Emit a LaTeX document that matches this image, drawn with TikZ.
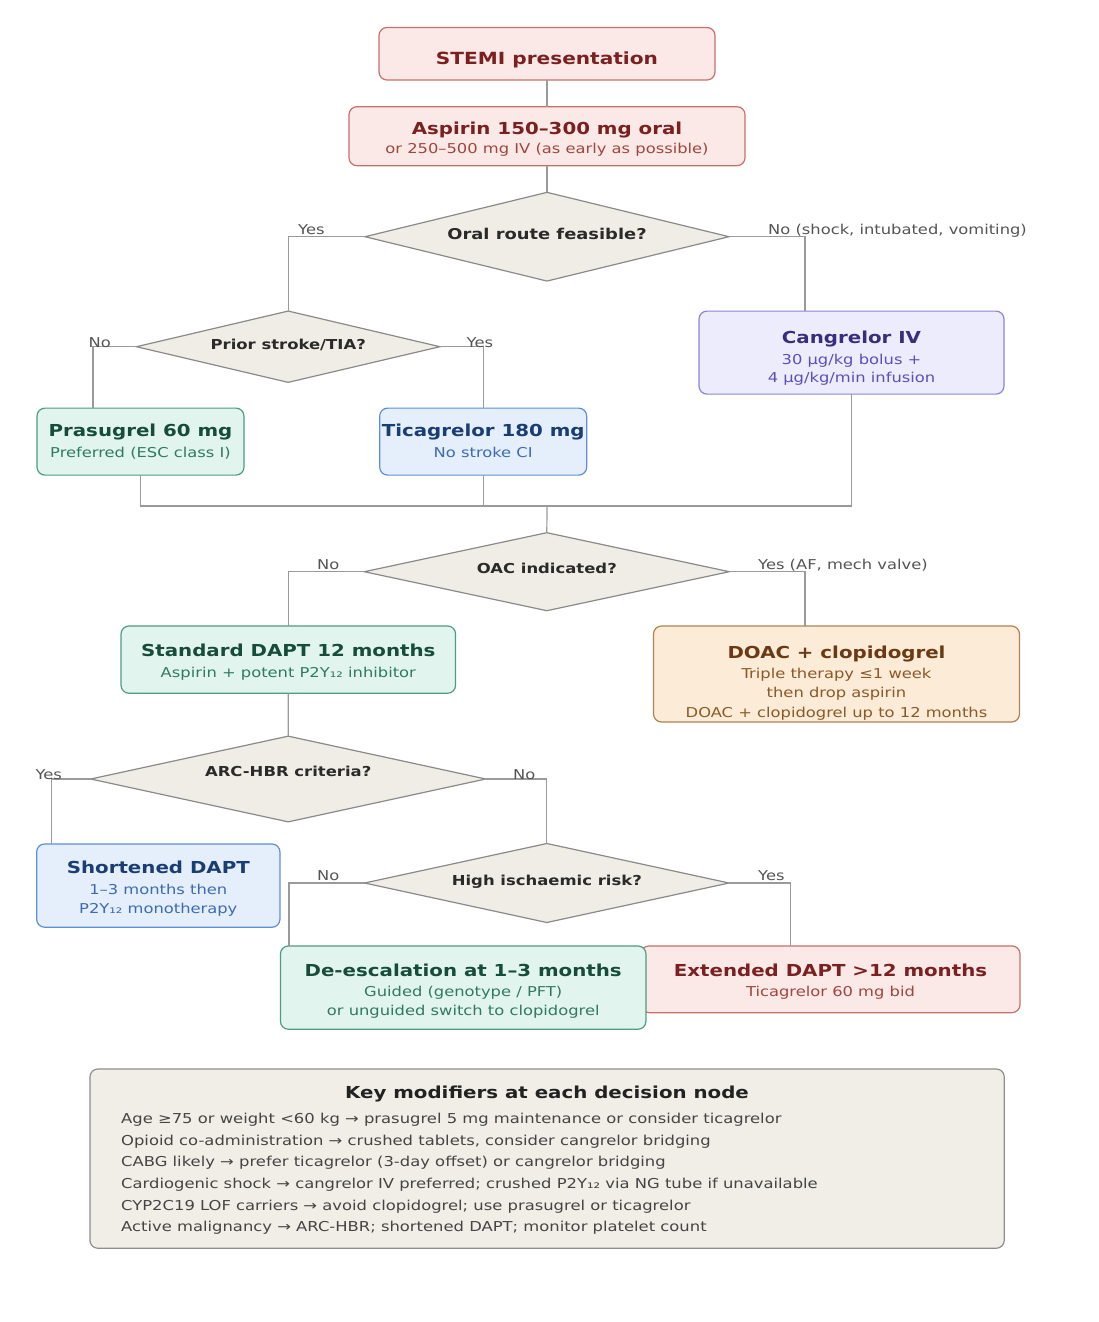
\documentclass[tikz,border=0pt]{standalone}
\usepackage{fontspec}
\setmainfont{DejaVu Sans}[FakeStretch=1.2]
\usetikzlibrary{shapes.geometric}
\definecolor{connc}{HTML}{9A9A9A}
\definecolor{lblc}{HTML}{555555}
\definecolor{dmf}{HTML}{F0EDE6}
\definecolor{dmb}{HTML}{8A8A8A}
\definecolor{dmt}{HTML}{2A2A2A}
\definecolor{pinkf}{HTML}{FBE9E7}
\definecolor{pinkd}{HTML}{C8706A}
\definecolor{pinkt}{HTML}{7B2020}
\definecolor{pinks}{HTML}{A0463E}
\definecolor{grnf}{HTML}{E2F4EE}
\definecolor{grnd}{HTML}{4F9C82}
\definecolor{grnt}{HTML}{164D3A}
\definecolor{grns}{HTML}{2F7A62}
\definecolor{bluf}{HTML}{E5EFFB}
\definecolor{blud}{HTML}{5F8FD8}
\definecolor{blut}{HTML}{1A3D73}
\definecolor{blus}{HTML}{3B6BB5}
\definecolor{lavf}{HTML}{EDECFC}
\definecolor{lavd}{HTML}{8C84D8}
\definecolor{lavt}{HTML}{3A2E7C}
\definecolor{lavs}{HTML}{5E4DBF}
\definecolor{orf}{HTML}{FBEBD7}
\definecolor{ord}{HTML}{B0834F}
\definecolor{ort}{HTML}{6A3A14}
\definecolor{ors}{HTML}{8A5A28}
\definecolor{keyf}{HTML}{F1EEE8}
\definecolor{keyd}{HTML}{8E8E8E}
\definecolor{keyt}{HTML}{222222}
\definecolor{keys}{HTML}{444444}
\tikzset{
  conn/.style={draw=connc, line width=1.2pt},
  bx/.style={rounded corners=8pt, line width=1.2pt, inner sep=0pt, outer sep=0pt},
  pinkbox/.style={bx, fill=pinkf, draw=pinkd},
  grnbox/.style={bx, fill=grnf, draw=grnd},
  blubox/.style={bx, fill=bluf, draw=blud},
  lavbox/.style={bx, fill=lavf, draw=lavd},
  orbox/.style={bx, fill=orf, draw=ord},
  keybox/.style={bx, fill=keyf, draw=keyd},
  dm/.style={diamond, draw=dmb, fill=dmf, line width=1.2pt, inner sep=0pt, outer sep=0pt},
  txt/.style={anchor=base, inner sep=0pt},
  ttl/.style={txt, font=\fontsize{16.5}{20}\selectfont\bfseries},
  subtx/.style={txt, font=\fontsize{13.6}{16}\selectfont},
  dtx/.style={txt, font=\fontsize{13.7}{16}\selectfont\bfseries, text=dmt},
  lbl/.style={anchor=base west, inner sep=0pt, font=\fontsize{13.6}{16}\selectfont, text=lblc},
  keyln/.style={anchor=base west, inner sep=0pt, font=\fontsize{13.65}{16}\selectfont, text=keys},
}
\begin{document}
\begin{tikzpicture}[x=1pt, y=-1pt]
\useasboundingbox[fill=white] (0,0) rectangle (1098,1322);

% ---------- shapes ----------
\node[pinkbox, minimum width=336pt, minimum height=52.5pt] (stemi) at (547,53.75) {};
\node[pinkbox, minimum width=396pt, minimum height=59pt] (asp) at (547,136.2) {};
\node[dm, minimum width=364pt, minimum height=88.7pt] (oral) at (547,236.7) {};
\node[dm, minimum width=303.5pt, minimum height=71.3pt] (prior) at (288.2,346.7) {};
\node[lavbox, minimum width=305pt, minimum height=83pt] (cang) at (851.5,352.6) {};
\node[grnbox, minimum width=207pt, minimum height=67pt] (pras) at (140.5,441.6) {};
\node[blubox, minimum width=207pt, minimum height=67pt] (tica) at (483.2,441.6) {};
\coordinate (merge) at (547,506);
\node[dm, minimum width=365pt, minimum height=78pt] (oac) at (546.8,571.7) {};
\node[grnbox, minimum width=334.5pt, minimum height=67.3pt] (std) at (288.3,659.6) {};
\node[orbox, minimum width=366pt, minimum height=96pt] (doac) at (836.5,674) {};
\node[dm, minimum width=395pt, minimum height=85.7pt] (arc) at (288.2,779) {};
\node[blubox, minimum width=243.3pt, minimum height=83.3pt] (short) at (158.3,885.6) {};
\node[dm, minimum width=364.5pt, minimum height=79pt] (high) at (546.8,883) {};
\node[pinkbox, minimum width=379pt, minimum height=66.7pt] (ext) at (830.5,979.3) {};
\node[grnbox, minimum width=365.5pt, minimum height=83.3pt] (deesc) at (463.2,987.6) {};
\node[keybox, minimum width=914.3pt, minimum height=179.3pt] (key) at (547.1,1158.6) {};

% ---------- connectors ----------
\draw[conn] (stemi.south) -- (asp.north);
\draw[conn] (asp.south) -- (oral.north);
\draw[conn] (oral.west) -| (prior.north);
\draw[conn] (oral.east) -| ([xshift=-46.5pt]cang.north);
\draw[conn] (prior.west) -| ([xshift=-47.6pt]pras.north);
\draw[conn] (prior.east) -| (tica.north);
\draw[conn] (pras.south) -- (pras.south |- merge) -- (cang.south |- merge) -- (cang.south);
\draw[conn] (tica.south) -- (tica.south |- merge);
\draw[conn] (merge) -- (oac.north);
\draw[conn] (oac.west) -| (std.north);
\draw[conn] (oac.east) -| ([xshift=-31.5pt]doac.north);
\draw[conn] (std.south) -- (arc.north);
\draw[conn] (arc.west) -| ([xshift=-106.9pt]short.north);
\draw[conn] (arc.east) -| (high.north);
\draw[conn] (high.west) -| ([xshift=-174.2pt]deesc.north);
\draw[conn] (high.east) -| ([xshift=-39.9pt]ext.north);

% ---------- box texts ----------
\node[ttl, text=pinkt] (stemi-t) at (547,64.3) {\fontsize{16.75}{20}\selectfont STEMI presentation};
\node[ttl, text=pinkt] (asp-t) at (547,134.5) {Aspirin 150–300 mg oral};
\node[subtx, text=pinks] (asp-s) at (547,153.5) {or 250–500 mg IV (as early as possible)};

\node[dtx, font=\fontsize{14.9}{16}\selectfont\bfseries] (oral-t) at (547,239) {Oral route feasible?};
\node[dtx] (prior-t) at (288.2,349.3) {Prior stroke/TIA?};

\node[ttl, text=lavt] (cang-t) at (851.5,343.3) {Cangrelor IV};
\node[subtx, text=lavs] (cang-s1) at (851.5,364) {30 μg/kg bolus +};
\node[subtx, text=lavs] (cang-s2) at (851.5,382) {4 μg/kg/min infusion};

\node[ttl, text=grnt] (pras-t) at (140.5,436.8) {Prasugrel 60 mg};
\node[subtx, text=grns] (pras-s) at (140.5,457.8) {Preferred (ESC class I)};
\node[ttl, text=blut] (tica-t) at (483.2,436.8) {Ticagrelor 180 mg};
\node[subtx, text=blus] (tica-s) at (483.2,457.8) {No stroke CI};

\node[dtx] (oac-t) at (546.8,573.3) {OAC indicated?};

\node[ttl, text=grnt] (std-t) at (288.3,656.7) {Standard DAPT 12 months};
\node[subtx, text=grns] (std-s) at (288.3,677.3) {Aspirin + potent P2Y₁₂ inhibitor};

\node[ttl, text=ort] (doac-t) at (836.5,658) {DOAC + clopidogrel};
\node[subtx, text=ors] (doac-s1) at (836.5,678) {Triple therapy ≤1 week};
\node[subtx, text=ors] (doac-s2) at (836.5,697.5) {then drop aspirin};
\node[subtx, text=ors] (doac-s3) at (836.5,717) {DOAC + clopidogrel up to 12 months};

\node[dtx] (arc-t) at (288.2,776.7) {ARC-HBR criteria?};

\node[ttl, text=blut] (short-t) at (158.3,873.3) {Shortened DAPT};
\node[subtx, text=blus] (short-s1) at (158.3,894) {1–3 months then};
\node[subtx, text=blus] (short-s2) at (158.3,913.5) {P2Y₁₂ monotherapy};

\node[dtx] (high-t) at (546.8,885) {High ischaemic risk?};

\node[ttl, text=grnt] (deesc-t) at (463.2,976.5) {De-escalation at 1–3 months};
\node[subtx, text=grns] (deesc-s1) at (463.2,996.5) {Guided (genotype / PFT)};
\node[subtx, text=grns] (deesc-s2) at (463.2,1015.5) {or unguided switch to clopidogrel};

\node[ttl, text=pinkt] (ext-t) at (830.5,976.5) {Extended DAPT >12 months};
\node[subtx, text=pinks] (ext-s) at (830.5,996.5) {Ticagrelor 60 mg bid};

% ---------- branch labels ----------
\node[lbl] (l-oral-y) at (298,234) {Yes};
\node[lbl] (l-oral-n) at (768,234) {No (shock, intubated, vomiting)};
\node[lbl] (l-prior-n) at (88.5,347) {No};
\node[lbl] (l-prior-y) at (466.5,347) {Yes};
\node[lbl] (l-oac-n) at (317,569) {No};
\node[lbl] (l-oac-y) at (758,569) {Yes (AF, mech valve)};
\node[lbl] (l-arc-y) at (35.3,779.5) {Yes};
\node[lbl] (l-arc-n) at (513,779.5) {No};
\node[lbl] (l-high-n) at (317,880) {No};
\node[lbl] (l-high-y) at (758,880) {Yes};

% ---------- key modifiers ----------
\node[ttl, text=keyt] (key-t) at (547,1098.3) {Key modifiers at each decision node};
\node[keyln] (k1) at (121,1123.3) {Age ≥75 or weight <60 kg → prasugrel 5 mg maintenance or consider ticagrelor};
\node[keyln] (k2) at (121,1145.0) {Opioid co-administration → crushed tablets, consider cangrelor bridging};
\node[keyln] (k3) at (121,1166.7) {CABG likely → prefer ticagrelor (3-day offset) or cangrelor bridging};
\node[keyln] (k4) at (121,1188.4) {Cardiogenic shock → cangrelor IV preferred; crushed P2Y₁₂ via NG tube if unavailable};
\node[keyln] (k5) at (121,1210.1) {CYP2C19 LOF carriers → avoid clopidogrel; use prasugrel or ticagrelor};
\node[keyln] (k6) at (121,1231.8) {Active malignancy → ARC-HBR; shortened DAPT; monitor platelet count};
\end{tikzpicture}
\end{document}
